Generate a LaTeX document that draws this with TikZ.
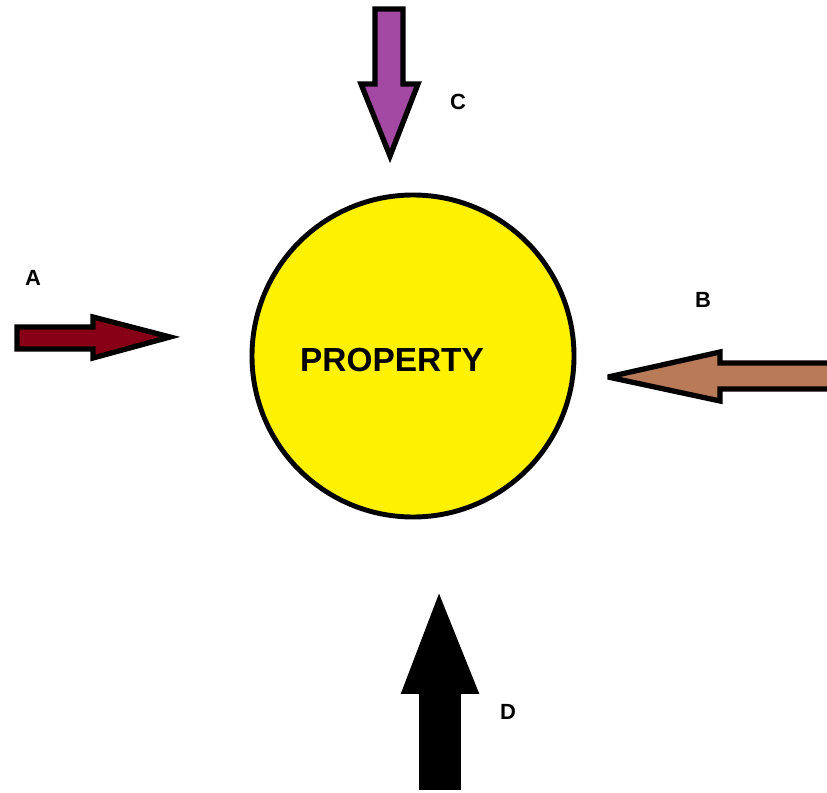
\documentclass[tikz,border=0pt]{standalone}
\usepackage{fontspec}
\setmainfont{Liberation Sans}

\definecolor{redA}{HTML}{880015}
\definecolor{brownB}{HTML}{B97A57}
\definecolor{purpleC}{HTML}{A349A4}
\definecolor{yellowP}{HTML}{FFF200}

\begin{document}
\begin{tikzpicture}[x=0.02cm,y=-0.02cm,line cap=round,line join=round,
    every node/.style={inner sep=1pt,font=\bfseries},
    letter/.style={font=\bfseries\fontsize{12.5}{14}\selectfont},
    blockarrow/.style={draw=black,line width=3pt,line join=miter,miter limit=4}]
  \clip (0,0) rectangle (827,793);
  \fill[white] (0,0) rectangle (827,793);
  % the property
  \draw[fill=yellowP,line width=2.8pt] (413,356) circle[radius=161];
  \node[font=\bfseries\fontsize{19}{22}\selectfont] (prop) at (392,360) {PROPERTY};
  % arrow A
  \filldraw[blockarrow,fill=redA] (17,327) -- (93,327) -- (93,317) -- (170,337) -- (93,358) -- (93,349) -- (17,349) -- cycle;
  \node[letter] (lblA) at (33,278) {A};
  % arrow B
  \filldraw[blockarrow,fill=brownB] (835,363) -- (720,363) -- (720,352) -- (608,377) -- (720,401) -- (720,389) -- (835,389) -- cycle;
  \node[letter] (lblB) at (703,300) {B};
  % arrow C
  \filldraw[blockarrow,fill=purpleC] (375,9) -- (403,9) -- (403,84) -- (418,84) -- (390,156) -- (361,84) -- (375,84) -- cycle;
  \node[letter] (lblC) at (458,102) {C};
  % arrow D
  \filldraw[blockarrow,line width=1pt,fill=black] (420,789) -- (460,789) -- (460,693) -- (478,693) -- (439,596) -- (402,693) -- (420,693) -- cycle;
  \node[letter] (lblD) at (508,712) {D};
\end{tikzpicture}
\end{document}
